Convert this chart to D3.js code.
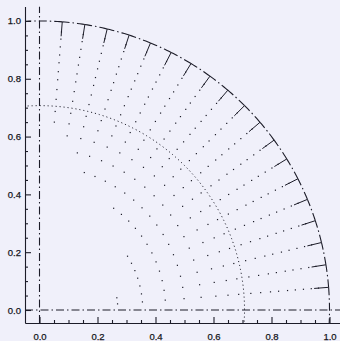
<!DOCTYPE html>
<html><head><meta charset="utf-8">
<script src="https://cdn.jsdelivr.net/npm/d3@7"></script>
<style>
html,body{margin:0;padding:0;background:#f0f0fa;}
svg{display:block;}
</style></head>
<body>
<svg id="c" width="340" height="341"></svg>
<script>
// ---- data ----
const lineAngles = [4.5, 9, 13.5, 18, 22.5, 27, 31.5, 36, 40.5, 45, 49.5, 54, 58.5, 63, 67.5, 72, 76.5, 81, 85.5];
const pointRadii = [0.27, 0.356, 0.435, 0.5, 0.559, 0.61, 0.652, 0.689, 0.731, 0.765, 0.799, 0.827, 0.858, 0.885, 0.913, 0.94, 0.965];
const innerRadius = [0.27, 0.27, 0.356, 0.356, 0.356, 0.356, 0.356, 0.435, 0.435, 0.435, 0.435, 0.435, 0.5, 0.5, 0.5, 0.5, 0.559, 0.61, 0.652];
const outerCircle = 1.0;
const innerCircle = 0.707;
const tickInner = 0.95;
const xTicks = [0.0, 0.2, 0.4, 0.6, 0.8, 1.0];
const yTicks = [0.0, 0.2, 0.4, 0.6, 0.8, 1.0];
const minorTicks = [0.05,0.1,0.15,0.25,0.3,0.35,0.45,0.5,0.55,0.65,0.7,0.75,0.85,0.9,0.95];

// ---- scales ----
const svg = d3.select("#c");
const x = d3.scaleLinear().domain([-0.05, 1.05]).range([25, 344]);
const y = d3.scaleLinear().domain([-0.045, 1.05]).range([323, 6.5]);
const ink = "#1c1c28";
const rad = d => d * Math.PI / 180;

svg.append("defs").append("clipPath").attr("id","clip")
  .append("rect").attr("x", x(-0.05)).attr("y", y(1.05))
  .attr("width", x(1.05)-x(-0.05)).attr("height", y(-0.045)-y(1.05));

const g = svg.append("g").attr("clip-path","url(#clip)");
const line = d3.line().x(d=>x(d[0])).y(d=>y(d[1]));
const arcPts = (r, a0, a1) => {
  const n = Math.max(4, Math.ceil(Math.abs(a1-a0)*2));
  return d3.range(n+1).map(i => { const a = rad(a0 + (a1-a0)*i/n); return [r*Math.cos(a), r*Math.sin(a)]; });
};
const dashDot = "8,3,1.5,3";

// reference lines x=0, y=0
g.append("path").attr("d", line([[0,-0.045],[0,1.05]]))
  .attr("stroke", ink).attr("stroke-width",1.1).attr("fill","none").attr("stroke-dasharray", dashDot);
g.append("path").attr("d", line([[-0.05,0],[1.05,0]]))
  .attr("stroke", ink).attr("stroke-width",1.1).attr("fill","none").attr("stroke-dasharray", dashDot);

// outer circle segments (dash pattern restarts at each line)
const segStarts = [-10].concat(lineAngles);
const segEnds = lineAngles.concat([100]);
segStarts.forEach((a0,i) => {
  const a1 = segEnds[i];
  const pts = i === 0 ? arcPts(outerCircle, a1, a0) : arcPts(outerCircle, a0, a1);
  g.append("path").attr("d", line(pts))
    .attr("stroke", ink).attr("stroke-width",1.1).attr("fill","none").attr("stroke-dasharray", dashDot);
});

// inner dotted circle
g.append("path").attr("d", line(arcPts(innerCircle, -10, 100)))
  .attr("stroke", ink).attr("stroke-width",1).attr("fill","none").attr("stroke-dasharray","1.1,2.9");

// solid ticks at circle
lineAngles.forEach(a => {
  const c = Math.cos(rad(a)), s = Math.sin(rad(a));
  g.append("path").attr("d", line([[outerCircle*c, outerCircle*s],[tickInner*c, tickInner*s]]))
    .attr("stroke", ink).attr("stroke-width",1).attr("fill","none");
});

// dots
const dots = [];
lineAngles.forEach((a,i) => {
  pointRadii.filter(r => r >= innerRadius[i] - 1e-6).forEach(r => dots.push([r*Math.cos(rad(a)), r*Math.sin(rad(a))]));
});
g.selectAll("rect.dot").data(dots).join("rect").attr("class","dot")
  .attr("x", d => x(d[0]) - 0.6).attr("y", d => y(d[1]) - 0.6)
  .attr("width", 1.2).attr("height", 1.2).attr("fill", ink);

// ---- axes ----
const axStyle = sel => {
  sel.selectAll("path,line").attr("stroke", ink).attr("stroke-width", 1.1);
  sel.selectAll("text").attr("fill", "#151520").attr("stroke", "#151520").attr("stroke-width", 0.25)
    .style("font-family","Liberation Sans, Arial, sans-serif").style("font-size","9.5px");
};
svg.append("g").attr("transform", `translate(${x(-0.05)},0)`)
  .call(d3.axisLeft(y).tickValues(yTicks).tickSize(-6).tickSizeOuter(0).tickPadding(4).tickFormat(d3.format(".1f")))
  .call(axStyle);
svg.append("g").attr("transform", `translate(${x(-0.05)},0)`)
  .call(d3.axisLeft(y).tickValues(minorTicks).tickSize(-3).tickSizeOuter(0).tickFormat(""))
  .call(axStyle).select(".domain").remove();
svg.append("g").attr("transform", `translate(0,${y(-0.045)})`)
  .call(d3.axisBottom(x).tickValues(xTicks).tickSize(-6).tickSizeOuter(0).tickPadding(10.5).tickFormat(d3.format(".1f")))
  .call(axStyle);
svg.append("g").attr("transform", `translate(0,${y(-0.045)})`)
  .call(d3.axisBottom(x).tickValues(minorTicks).tickSize(-3).tickSizeOuter(0).tickFormat(""))
  .call(axStyle).select(".domain").remove();
</script>
</body></html>
